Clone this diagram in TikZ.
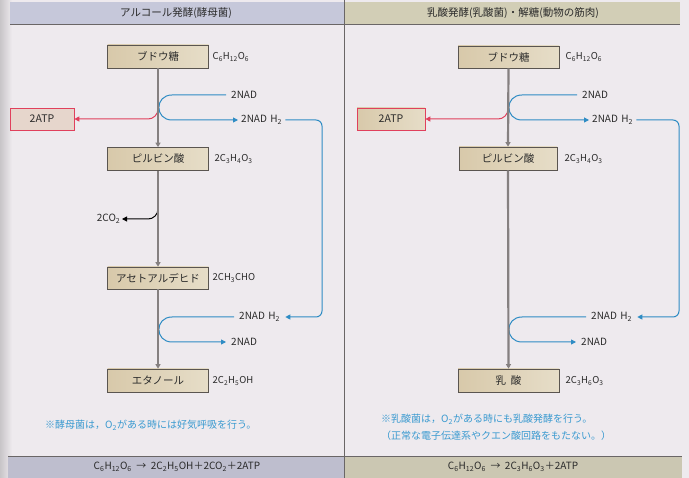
\documentclass[tikz,border=0pt]{standalone}
\usepackage{fontspec}
\setmainfont{Noto Sans CJK JP}
\usetikzlibrary{arrows.meta}
\definecolor{bg}{HTML}{EEEAEE}
\definecolor{hdrL}{HTML}{C6C8DA}
\definecolor{hdrR}{HTML}{D2CEB6}
\definecolor{botL}{HTML}{BEBECE}
\definecolor{botR}{HTML}{CBC7B2}
\definecolor{boxL}{HTML}{D8C9AA}
\definecolor{boxR}{HTML}{E6DDC8}
\definecolor{boxline}{HTML}{5A5550}
\definecolor{frame}{HTML}{6A6666}
\definecolor{flowblue}{HTML}{2E8CC4}
\definecolor{flowred}{HTML}{E0405C}
\definecolor{mainline}{HTML}{858080}
\definecolor{notetext}{HTML}{3A9AD0}
\definecolor{atpfill}{HTML}{E6D6CC}
\definecolor{textc}{HTML}{2A2A2A}
\newcommand\hspc{\hspace{3.5pt}}
\begin{document}
\begin{tikzpicture}[x=1pt,y=-1pt,
  stepbox/.style={draw=boxline,line width=0.7pt,left color=boxL,right color=boxR,
    minimum width=101pt,minimum height=23pt,inner sep=0pt,text=textc,
    font=\fontsize{10.5}{12}\selectfont},
  atpbox/.style={draw=flowred,line width=0.7pt,fill=atpfill,
    minimum width=64pt,minimum height=22pt,inner sep=0pt,text=textc,
    font=\fontsize{10.5}{12}\selectfont},
  fml/.style={anchor=west,inner sep=1.5pt,text=textc,font=\fontsize{9.5}{11}\selectfont},
  lbl/.style={inner ysep=1.5pt,inner xsep=3pt,text=textc,font=\fontsize{10}{12}\selectfont},
  title/.style={inner sep=0pt,text=textc,font=\fontsize{10.5}{12}\selectfont},
  note/.style={anchor=west,inner sep=0pt,text=notetext,font=\fontsize{10}{12}\selectfont},
  eqn/.style={inner sep=0pt,text=textc,font=\fontsize{10}{12}\selectfont},
  mainln/.style={draw=mainline,line width=2.2pt,-{Triangle[length=4.5pt,width=5pt]}},
  blueln/.style={draw=flowblue,line width=1pt,-{Triangle[length=5pt,width=5pt]}},
  redln/.style={draw=flowred,line width=1pt,-{Triangle[length=5pt,width=5pt]}},
  blackln/.style={draw=black,line width=1pt,-{Triangle[length=5pt,width=5pt]}}
]
\useasboundingbox (0,0) rectangle (689,478);
% background
\fill[bg] (0,0) rectangle (689,478);
\fill[left color=black!16!bg,right color=bg] (0,0) rectangle (12,478);
% header and footer bands
\fill[hdrL] (10,2) rectangle (344,24);
\fill[hdrR] (344,2) rectangle (680,24);
\fill[botL] (8,456) rectangle (344,478);
\fill[botR] (344,456) rectangle (682,478);
\draw[frame,line width=0.8pt] (10,24) -- (680,24);
\draw[frame,line width=0.8pt] (8,456) -- (682,456);
\draw[frame,line width=0.8pt] (344,0) -- (344,478);

\node[title] (tL) at (176,13) {アルコール発酵(酵母菌)};
\node[title] (tR) at (513,13) {乳酸発酵(乳酸菌)・解糖(動物の筋肉)};

% ---------- left panel ----------
\node[stepbox] (glcL) at (158,56.5) {ブドウ糖};
\node[fml] (glcLf) at (211,57) {C\textsubscript{6}H\textsubscript{12}O\textsubscript{6}};
\node[stepbox] (pyrL) at (158,159) {ピルビン酸};
\node[fml] (pyrLf) at (213,159) {2C\textsubscript{3}H\textsubscript{4}O\textsubscript{3}};
\node[stepbox,minimum height=22pt] (aceL) at (158,278) {アセトアルデヒド};
\node[fml] (aceLf) at (211,278) {2CH\textsubscript{3}CHO};
\node[stepbox] (ethL) at (158,380.5) {エタノール};
\node[fml] (ethLf) at (211,381) {2C\textsubscript{2}H\textsubscript{5}OH};
\node[atpbox] (atpL) at (42,119) {2ATP};
\node[lbl,anchor=west,inner xsep=5pt] (nadL1) at (226,95) {2NAD};
\node[lbl,anchor=west] (nadhL1) at (238,120) {2NAD\hspc H\textsubscript{2}};
\node[lbl,anchor=west,inner xsep=5pt] (nadhL2) at (234,317) {2NAD\hspc H\textsubscript{2}};
\node[lbl,anchor=west,inner xsep=5pt] (nadL2) at (226,342) {2NAD};
\node[lbl,anchor=east,inner xsep=1.5pt] (co2L) at (122,219) {2CO\textsubscript{2}};
\coordinate (jredL) at (158,103);
\coordinate (jco2L) at (158,205);
\coordinate (aL1) at (172,95);
\coordinate (bL1) at (172,120);
\coordinate (aL2) at (172,317);
\coordinate (bL2) at (172,342);
\coordinate (sideL) at (322,220);

\draw[redln,rounded corners=10pt] (jredL) |- (atpL.east);
\draw[blueln] (nadL1.west) -- (aL1) .. controls (154.5,95) and (154.5,120) .. (bL1) -- (nadhL1.west);
\draw[blueln,rounded corners=6pt] (nadhL1.east) -| (sideL) |- (nadhL2.east);
\draw[blueln] (nadhL2.west) -- (aL2) .. controls (154.5,317) and (154.5,342) .. (bL2) -- (nadL2.west);
\draw[blackln,rounded corners=10pt] (jco2L) |- (co2L.east);
\draw[mainln] (glcL.south) -- (pyrL.north);
\draw[mainln] (pyrL.south) -- (aceL.north);
\draw[mainln] (aceL.south) -- (ethL.north);

\node[note] (noteL) at (45,425) {※酵母菌は，O\textsubscript{2}がある時には好気呼吸を行う。};
\node[eqn] (eqL) at (177,467) {C\textsubscript{6}H\textsubscript{12}O\textsubscript{6} \ → \ 2C\textsubscript{2}H\textsubscript{5}OH＋2CO\textsubscript{2}＋2ATP};

% ---------- right panel ----------
\node[stepbox,minimum height=22pt] (glcR) at (508.5,57) {ブドウ糖};
\node[fml] (glcRf) at (564,57) {C\textsubscript{6}H\textsubscript{12}O\textsubscript{6}};
\node[stepbox,minimum width=98pt] (pyrR) at (508,158.5) {ピルビン酸};
\node[fml] (pyrRf) at (563,159) {2C\textsubscript{3}H\textsubscript{4}O\textsubscript{3}};
\node[stepbox] (lacR) at (508.5,380.5) {乳\ \ 酸};
\node[fml] (lacRf) at (564,381) {2C\textsubscript{3}H\textsubscript{6}O\textsubscript{3}};
\node[atpbox,minimum width=68pt,left color=boxL,right color=boxR] (atpR) at (391,119) {2ATP};
\node[lbl,anchor=west,inner xsep=5pt] (nadR1) at (577,95) {2NAD};
\node[lbl,anchor=west] (nadhR1) at (589,120) {2NAD\hspc H\textsubscript{2}};
\node[lbl,anchor=west,inner xsep=5pt] (nadhR2) at (586,317) {2NAD\hspc H\textsubscript{2}};
\node[lbl,anchor=west,inner xsep=5pt] (nadR2) at (576,342) {2NAD};
\coordinate (jredR) at (508,103);
\coordinate (aR1) at (522,95);
\coordinate (bR1) at (522,120);
\coordinate (aR2) at (522,317);
\coordinate (bR2) at (522,342);
\coordinate (sideR) at (679,220);

\draw[redln,rounded corners=10pt] (jredR) |- (atpR.east);
\draw[blueln] (nadR1.west) -- (aR1) .. controls (504.5,95) and (504.5,120) .. (bR1) -- (nadhR1.west);
\draw[blueln,rounded corners=6pt] (nadhR1.east) -| (sideR) |- (nadhR2.east);
\draw[blueln] (nadhR2.west) -- (aR2) .. controls (504.5,317) and (504.5,342) .. (bR2) -- (nadR2.west);
\draw[mainln] (glcR.south) -- (pyrR.north);
\draw[mainln] (pyrR.south) -- (lacR.north);

\node[note] (noteR1) at (381,419) {※乳酸菌は，O\textsubscript{2}がある時にも乳酸発酵を行う。};
\node[note] (noteR2) at (381,436) {（正常な電子伝達系やクエン酸回路をもたない。）};
\node[eqn] (eqR) at (513,467) {C\textsubscript{6}H\textsubscript{12}O\textsubscript{6} \ → \ 2C\textsubscript{3}H\textsubscript{6}O\textsubscript{3}＋2ATP};
\end{tikzpicture}
\end{document}
